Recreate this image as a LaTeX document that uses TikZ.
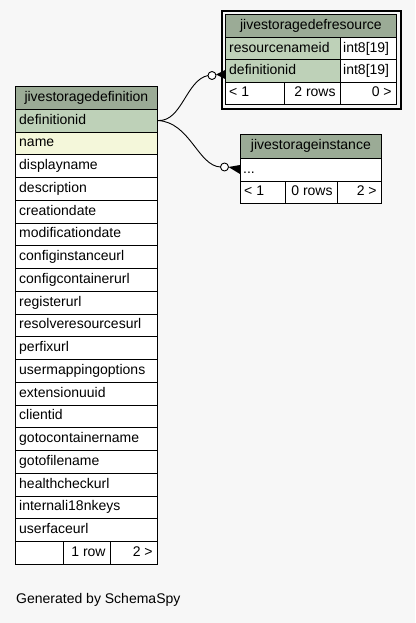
\documentclass[tikz,border=0pt]{standalone}
\usepackage{fontspec}
\setmainfont{Liberation Sans}
\definecolor{bgc}{HTML}{F7F7F7}
\definecolor{headc}{HTML}{9BAB96}
\definecolor{keyc}{HTML}{BED1B8}
\definecolor{idxc}{HTML}{F4F7DA}
\begin{document}
\begin{tikzpicture}[x=1pt,y=-1pt,
  cell/.style={draw=black, line width=0.8pt, rectangle, inner sep=0pt, anchor=north west},
  txt/.style={font=\fontsize{14}{16}\selectfont, inner sep=0pt, text height=10pt, text depth=3pt},
  edge/.style={line width=0.9pt, draw=black},
  foot/.style={fill=black}]
\fill[bgc] (0,0) rectangle (415,623);
\useasboundingbox (0,0) rectangle (415,623);

% ---------- left table: jivestoragedefinition ----------
\def\lx{15}\def\rx{157}\def\tp{86}\def\rh{22.76}
\node[cell, fill=headc, minimum width=142pt, minimum height=\rh pt] (dhead) at (\lx,\tp) {};
\node[txt] (dheadt) at (dhead.center) {jivestoragedefinition};
\foreach \nm [count=\i] in {definitionid,name,displayname,description,creationdate,modificationdate,configinstanceurl,configcontainerurl,registerurl,resolveresourcesurl,perfixurl,usermappingoptions,extensionuuid,clientid,gotocontainername,gotofilename,healthcheckurl,internali18nkeys,userfaceurl}{
  \ifnum\i=1 \def\fc{keyc}\else\ifnum\i=2 \def\fc{idxc}\else\def\fc{white}\fi\fi
  \node[cell, fill=\fc, minimum width=142pt, minimum height=\rh pt] (d\i) at (\lx,{\tp+\i*\rh}) {};
  \node[txt, anchor=west] (dt\i) at ([xshift=4pt]d\i.west) {\nm};
}
\node[cell, fill=white, minimum width=48pt, minimum height=\rh pt] (df1) at (\lx,{\tp+20*\rh}) {};
\node[cell, fill=white, minimum width=47pt, minimum height=\rh pt] (df2) at (63,{\tp+20*\rh}) {};
\node[cell, fill=white, minimum width=47pt, minimum height=\rh pt] (df3) at (110,{\tp+20*\rh}) {};
\node[txt, anchor=east] (df2t) at ([xshift=-5pt]df2.east) {1 row};
\node[txt, anchor=east] (df3t) at ([xshift=-5pt]df3.east) {2 >};

% ---------- top right table: jivestoragedefresource ----------
\node[draw=black, line width=2pt, rectangle, minimum width=179pt, minimum height=98pt, anchor=north west, inner sep=0pt] (rframe) at (221,10) {};
\node[cell, fill=headc, minimum width=171pt, minimum height=23pt] (rhead) at (225,14) {};
\node[txt] (rheadt) at (rhead.center) {jivestoragedefresource};
\node[cell, fill=keyc, minimum width=115pt, minimum height=22.5pt] (r1a) at (225,37) {};
\node[cell, fill=white, minimum width=56pt, minimum height=22.5pt] (r1b) at (340,37) {};
\node[cell, fill=keyc, minimum width=115pt, minimum height=22.5pt] (r2a) at (225,59.5) {};
\node[cell, fill=white, minimum width=56pt, minimum height=22.5pt] (r2b) at (340,59.5) {};
\node[txt, anchor=west] (r1at) at ([xshift=4pt]r1a.west) {resourcenameid};
\node[txt, anchor=west] (r1bt) at ([xshift=3pt]r1b.west) {int8[19]};
\node[txt, anchor=west] (r2at) at ([xshift=4pt]r2a.west) {definitionid};
\node[txt, anchor=west] (r2bt) at ([xshift=3pt]r2b.west) {int8[19]};
\node[cell, fill=white, minimum width=59pt, minimum height=22pt] (rf1) at (225,82) {};
\node[cell, fill=white, minimum width=56pt, minimum height=22pt] (rf2) at (284,82) {};
\node[cell, fill=white, minimum width=56pt, minimum height=22pt] (rf3) at (340,82) {};
\node[txt, anchor=west] (rf1t) at ([xshift=4pt]rf1.west) {< 1};
\node[txt, anchor=east] (rf2t) at ([xshift=-5pt]rf2.east) {2 rows};
\node[txt, anchor=east] (rf3t) at ([xshift=-5pt]rf3.east) {0 >};

% ---------- middle right table: jivestorageinstance ----------
\node[cell, fill=headc, minimum width=141pt, minimum height=24pt] (ihead) at (240,134) {};
\node[txt] (iheadt) at (ihead.center) {jivestorageinstance};
\node[cell, fill=white, minimum width=141pt, minimum height=23pt] (i1) at (240,158) {};
\node[txt, anchor=west] (i1t) at ([xshift=3pt]i1.west) {...};
\node[cell, fill=white, minimum width=45pt, minimum height=22pt] (if1) at (240,181) {};
\node[cell, fill=white, minimum width=52pt, minimum height=22pt] (if2) at (285,181) {};
\node[cell, fill=white, minimum width=44pt, minimum height=22pt] (if3) at (337,181) {};
\node[txt, anchor=west] (if1t) at ([xshift=4pt]if1.west) {< 1};
\node[txt, anchor=east] (if2t) at ([xshift=-5pt]if2.east) {0 rows};
\node[txt, anchor=east] (if3t) at ([xshift=-5pt]if3.east) {2 >};

% ---------- connectors ----------
\coordinate (src) at (d1.east);
\coordinate (c1) at (212,75.5);
\coordinate (c2) at (224.5,167);
\draw[edge] (src) .. controls (182,122) and (186,80) .. ([xshift=-4pt]c1);
\draw[edge] (src) .. controls (190,122) and (198,166) .. ([xshift=-4pt]c2);
\draw[edge, fill=white] (c1) circle (4pt);
\draw[edge, fill=white] (c2) circle (4pt);
\fill[foot] (216,74.5) -- (r2a.west |- 0,70) -- (r2a.west |- 0,79) -- cycle;
\fill[foot] (228.5,167) -- (i1.west |- 0,165) -- (i1.west |- 0,174) -- cycle;

% ---------- footer text ----------
\node[txt, anchor=west] (gen) at (16,600) {Generated by SchemaSpy};
\end{tikzpicture}
\end{document}
